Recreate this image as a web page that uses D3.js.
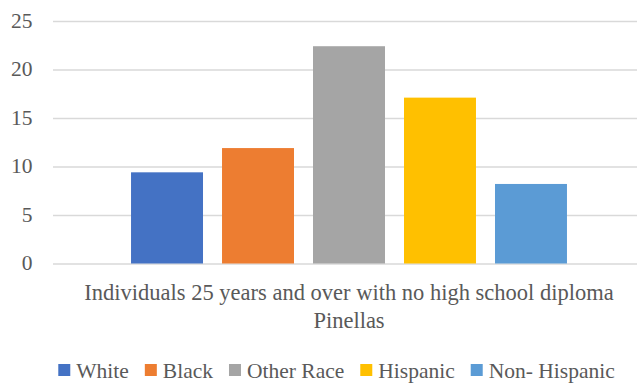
<!DOCTYPE html>
<html>
<head>
<meta charset="utf-8">
<script src="https://cdn.jsdelivr.net/npm/d3@7"></script>
<style>
  html, body { margin: 0; padding: 0; background: #fff; }
  #wrap { position: relative; width: 637px; height: 383px; overflow: hidden; }
  #wrap svg { position: absolute; left: 0; top: 0; display: block; }
  .lbl { position: absolute; white-space: nowrap; font-family: "Liberation Serif", "Times New Roman", Tinos, serif; color: #595959; line-height: 1; }
</style>
</head>
<body>
<div id="wrap"></div>
<script>
const categories = ["Pinellas"];
const seriesNames = ["White", "Black", "Other Race", "Hispanic", "Non- Hispanic"];
const seriesValues = [9.4, 11.9, 22.4, 17.1, 8.2];
const seriesColors = ["#4472c4", "#ed7d31", "#a5a5a5", "#ffc000", "#5b9bd5"];
const yTicks = [0, 5, 10, 15, 20, 25];
const axisTitleLines = ["Individuals 25 years and over with no high school diploma", "Pinellas"];

const W = 637, H = 383;
const wrap = d3.select("#wrap");
const svg = wrap.append("svg").attr("width", W).attr("height", H);

const plotLeft = 53, plotRight = 645, plotTop = 21, plotBottom = 263.5;

const y = d3.scaleLinear().domain([0, 25]).range([plotBottom, plotTop]);
const x0 = d3.scaleBand().domain(categories).range([plotLeft, plotRight]).paddingInner(0).paddingOuter(0.179);
const x1 = d3.scaleBand().domain(seriesNames).range([0, x0.bandwidth()]).paddingInner(0.209).paddingOuter(0);

// gridlines
const grid = svg.append("g").attr("transform", `translate(${plotLeft},0)`)
  .call(d3.axisLeft(y).tickValues(yTicks).tickSize(-(plotRight - plotLeft)).tickFormat(""));
grid.select(".domain").remove();
grid.selectAll("line").attr("stroke", "#d9d9d9").attr("stroke-width", 1.5);
grid.selectAll("text").remove();

// bars
const data = seriesNames.map((s, i) => ({ cat: categories[0], name: s, value: seriesValues[i], color: seriesColors[i] }));
svg.append("g").selectAll("rect").data(data).join("rect")
  .attr("x", d => x0(d.cat) + x1(d.name))
  .attr("width", x1.bandwidth())
  .attr("y", d => y(d.value))
  .attr("height", d => y(0) - y(d.value))
  .attr("fill", d => d.color);

// y tick labels (HTML, right aligned at x=32.5)
const fmt = d3.format("d");
wrap.selectAll("div.tick").data(yTicks).join("div")
  .attr("class", "lbl tick")
  .style("font-size", "21.5px")
  .style("right", (W - 32.5) + "px")
  .style("top", d => (y(d) - 10.5) + "px")
  .text(d => fmt(d));

// category axis label
const cx = x0(categories[0]) + x0.bandwidth() / 2;
const titles = wrap.selectAll("div.ttl").data(axisTitleLines).join("div")
  .attr("class", "lbl ttl")
  .style("font-size", "22.5px")
  .style("top", (d, i) => (282 + i * 28) + "px")
  .text(d => d);
titles.each(function () {
  const w = this.getBoundingClientRect().width;
  d3.select(this).style("left", (cx - w / 2) + "px");
});

// legend
svg.append("g").selectAll("rect").data(data).join("rect")
  .attr("class", "lgsq")
  .attr("width", 12).attr("height", 12).attr("y", 364)
  .attr("fill", d => d.color);
const ltexts = wrap.selectAll("div.leg").data(data).join("div")
  .attr("class", "lbl leg")
  .style("font-size", "21.5px")
  .style("top", "361px")
  .text(d => d.name);
const widths = [];
ltexts.each(function () { widths.push(this.getBoundingClientRect().width); });
let cursor = 0;
const positions = widths.map(w => { const p = cursor; cursor += 18 + w + 16; return p; });
const total = cursor - 16;
const startX = 336.5 - total / 2;
svg.selectAll("rect.lgsq").attr("x", (d, i) => startX + positions[i]);
ltexts.style("left", (d, i) => (startX + positions[i] + 18) + "px");
</script>
</body>
</html>
